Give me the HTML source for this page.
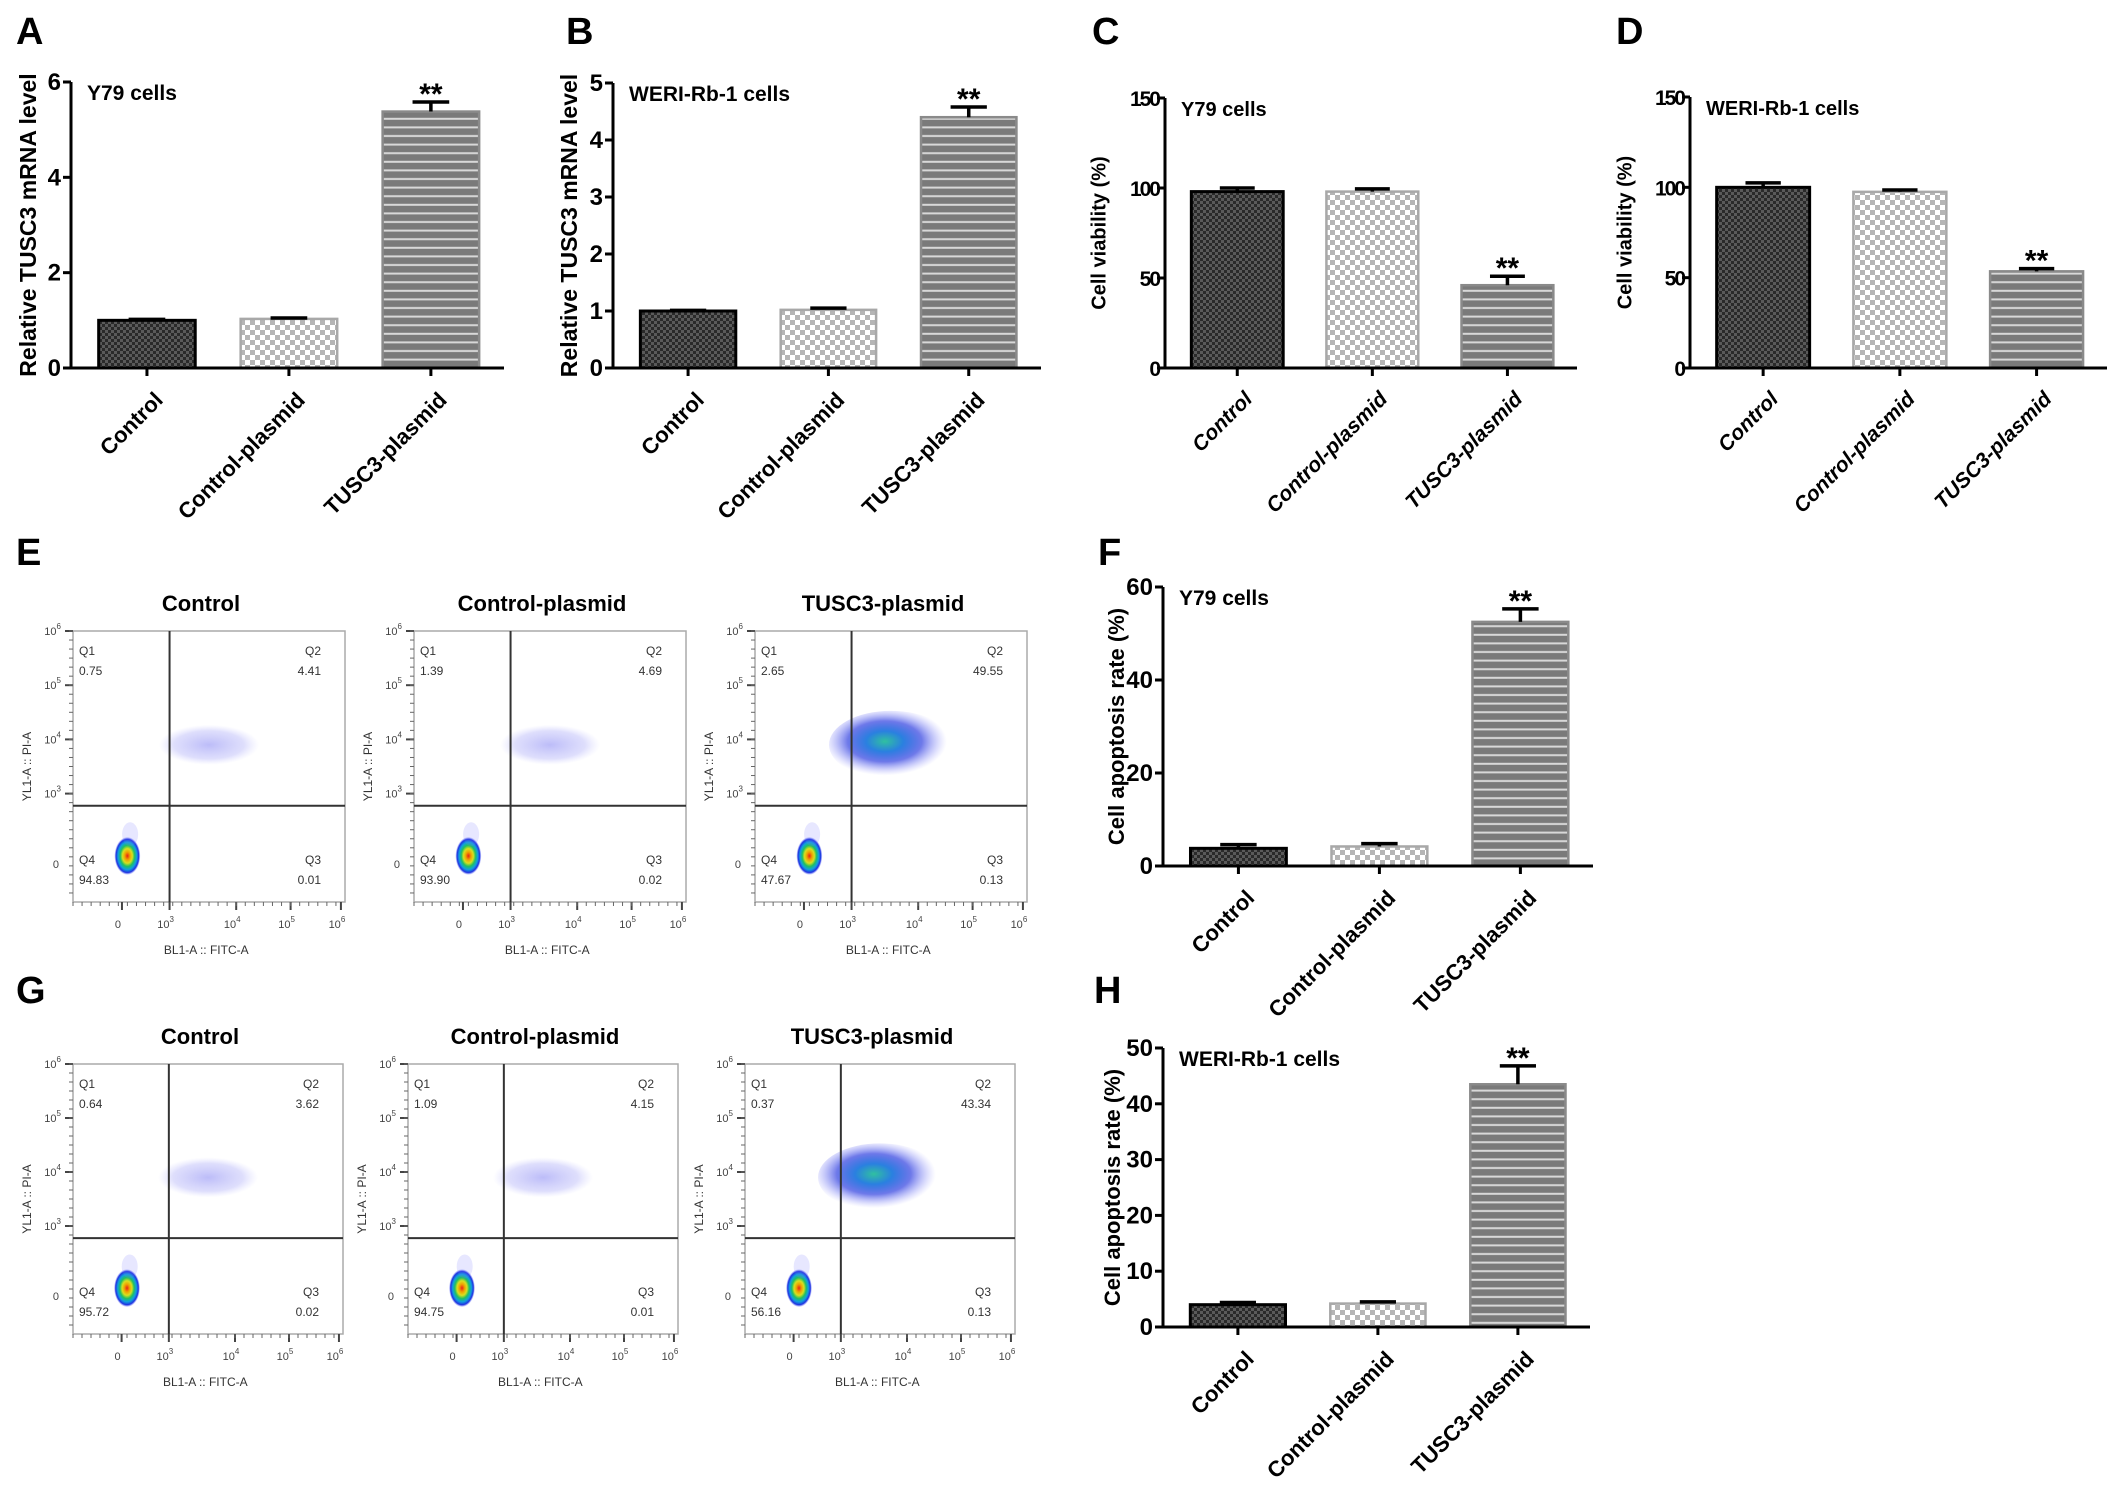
<!DOCTYPE html>
<html><head><meta charset="utf-8">
<style>
html,body{margin:0;padding:0;background:#fff;}
svg{display:block;font-family:"Liberation Sans",Arial,sans-serif;}
</style></head>
<body>
<svg id="fig" width="2126" height="1494" viewBox="0 0 2126 1494" xmlns="http://www.w3.org/2000/svg">
<defs>
  <pattern id="pDark" width="6" height="6" patternUnits="userSpaceOnUse">
    <rect width="6" height="6" fill="#5a5a5a"/>
    <rect width="3" height="3" fill="#2a2a2a"/><rect x="3" y="3" width="3" height="3" fill="#2a2a2a"/>
  </pattern>
  <pattern id="pLight" width="10" height="10" patternUnits="userSpaceOnUse">
    <rect width="10" height="10" fill="#ffffff"/>
    <rect width="5" height="5" fill="#b5b5b5"/><rect x="5" y="5" width="5" height="5" fill="#b5b5b5"/>
  </pattern>
  <pattern id="pStripe" width="10" height="8.6" patternUnits="userSpaceOnUse">
    <rect width="10" height="8.6" fill="#7a7a7a"/>
    <rect y="6" width="10" height="2" fill="#d8d8d8"/>
  </pattern>
  <radialGradient id="jet" cx="50%" cy="50%" r="50%">
    <stop offset="0" stop-color="#e8201a"/>
    <stop offset="0.2" stop-color="#f0a000"/>
    <stop offset="0.38" stop-color="#d8e020"/>
    <stop offset="0.55" stop-color="#20c060"/>
    <stop offset="0.72" stop-color="#10a0e0"/>
    <stop offset="0.88" stop-color="#2030e0"/>
    <stop offset="1" stop-color="#6070ff" stop-opacity="0"/>
  </radialGradient>
  <radialGradient id="cloudSparse" cx="50%" cy="50%" r="50%">
    <stop offset="0" stop-color="#6a6af0" stop-opacity="0.45"/>
    <stop offset="0.7" stop-color="#8a8af5" stop-opacity="0.28"/>
    <stop offset="1" stop-color="#aaaaff" stop-opacity="0"/>
  </radialGradient>
  <radialGradient id="cloudDense" cx="45%" cy="45%" r="50%">
    <stop offset="0" stop-color="#30c0a0"/>
    <stop offset="0.3" stop-color="#2a80e0"/>
    <stop offset="0.6" stop-color="#3040e0" stop-opacity="0.7"/>
    <stop offset="1" stop-color="#9090ff" stop-opacity="0"/>
  </radialGradient>
</defs>
<g id="root"></g>
</svg>
<script>
// ---------- data ----------
const categories = ["Control", "Control-plasmid", "TUSC3-plasmid"];
const valuesA = [1.0, 1.03, 5.38];
const errorsA = [0.02, 0.02, 0.2];
const valuesB = [1.0, 1.02, 4.40];
const errorsB = [0.01, 0.03, 0.18];
const valuesC = [98, 98, 46];
const errorsC = [2, 1.5, 5];
const valuesD = [100, 97.5, 53.5];
const errorsD = [2.5, 1, 1.5];
const valuesF = [3.8, 4.2, 52.5];
const errorsF = [0.8, 0.6, 2.8];
const valuesH = [4.0, 4.2, 43.5];
const errorsH = [0.4, 0.3, 3.3];
const ticksA = [0, 2, 4, 6];
const ticksB = [0, 1, 2, 3, 4, 5];
const ticksCD = [0, 50, 100, 150];
const ticksF = [0, 20, 40, 60];
const ticksH = [0, 10, 20, 30, 40, 50];
const flowTitles = ["Control", "Control-plasmid", "TUSC3-plasmid"];
const flowE = [["0.75","4.41","94.83","0.01"],["1.39","4.69","93.90","0.02"],["2.65","49.55","47.67","0.13"]];
const flowG = [["0.64","3.62","95.72","0.02"],["1.09","4.15","94.75","0.01"],["0.37","43.34","56.16","0.13"]];
const flowQ2E = [4.41, 4.69, 49.55];
const flowQ2G = [3.62, 4.15, 43.34];

const NS = "http://www.w3.org/2000/svg";
const root = document.getElementById("root");
function mk(tag, attrs, parent, txt){
  const e = document.createElementNS(NS, tag);
  for (const k in attrs) e.setAttribute(k, attrs[k]);
  if (txt !== undefined) e.textContent = txt;
  (parent || root).appendChild(e);
  return e;
}

function panelLetter(ch, x, y){
  const t = mk("text", {x:x, y:y, "font-size":38, "font-weight":"bold", fill:"#000"}, root, ch);
  
  
}

function barChart(o){
  const g = mk("g", {});
  
  
  const yMax = o.ticks[o.ticks.length-1];
  const ys = v => o.y0 - (v / yMax) * (o.y0 - o.yTop);
  const step = (o.xEnd - o.ax) / 3.05;
  const cx = i => o.ax + (i + 0.535) * step;
  const bw = step * 0.68;
  const fills = ["url(#pDark)", "url(#pLight)", "url(#pStripe)"];
  const strokes = ["#000", "#a8a8a8", "#8a8a8a"];
  o.values.forEach((v, i) => {
    const r = mk("rect", {x:cx(i)-bw/2, y:ys(v), width:bw, height:o.y0-ys(v), fill:fills[i], stroke:strokes[i], "stroke-width":i===0?3:2.5}, g);
    
    
    const e = o.errors[i];
    const eb = mk("path", {d:`M${cx(i)} ${ys(v)} V${ys(v+e)} M${cx(i)-bw*0.19} ${ys(v+e)} H${cx(i)+bw*0.19}`, stroke:"#000", "stroke-width":3.5, fill:"none"}, g);
    
    
    if (i === 2) {
      const s = mk("text", {x:cx(i), y:ys(v+e)+2, "text-anchor":"middle", "font-size":30, "font-weight":"bold"}, g, "**");
      
      
    }
    mk("line", {x1:cx(i), x2:cx(i), y1:o.y0, y2:o.y0+8, stroke:"#000", "stroke-width":3}, g);
    const lx = cx(i) + 6, ly = o.y0 + 22;
    const lab = mk("text", {x:lx, y:ly, "text-anchor":"end", "font-size":o.catSize, "font-weight":"bold", "font-style":o.italic?"italic":"normal", transform:`rotate(-45 ${lx} ${ly})`, "dominant-baseline":"hanging"}, g, categories[i]);
    
    
  });
  const ya = mk("line", {x1:o.ax, x2:o.ax, y1:o.yTop, y2:o.y0, stroke:"#000", "stroke-width":3}, g);
  
  
  const xa = mk("line", {x1:o.ax-8, x2:o.xEnd, y1:o.y0, y2:o.y0, stroke:"#000", "stroke-width":3}, g);
  
  
  o.ticks.forEach(t => {
    mk("line", {x1:o.ax-8, x2:o.ax, y1:ys(t), y2:ys(t), stroke:"#000", "stroke-width":3}, g);
    const tl = mk("text", {x:o.ax-(o.narrow?6:10), y:ys(t)+8, "text-anchor":"end", "font-size":o.tickSize, "font-weight":"bold", "letter-spacing":o.narrow?-2:0}, g, String(t));
    
    
  });
  const yl = mk("text", {x:o.ylx, y:(o.yTop+o.y0)/2, "text-anchor":"middle", "font-size":o.ylSize, "font-weight":"bold", transform:`rotate(-90 ${o.ylx} ${(o.yTop+o.y0)/2})`, "dominant-baseline":"middle"}, g, o.ylabel);
  
  
  const ti = mk("text", {x:o.ax+16, y:o.yTop+18, "font-size":o.titleSize, "font-weight":"bold"}, g, o.title);
  
  
}

barChart({name:"chart-a", ax:71, xEnd:504, y0:368, yTop:82, ticks:ticksA, values:valuesA, errors:errorsA, ylabel:"Relative TUSC3 mRNA level", ylx:30, title:"Y79 cells", tickSize:24, ylSize:23, titleSize:21, catSize:22});
barChart({name:"chart-b", ax:613, xEnd:1041, y0:368, yTop:83, ticks:ticksB, values:valuesB, errors:errorsB, ylabel:"Relative TUSC3 mRNA level", ylx:571, title:"WERI-Rb-1 cells", tickSize:24, ylSize:23, titleSize:21, catSize:22});
barChart({name:"chart-c", ax:1165, xEnd:1577, y0:368, yTop:98, ticks:ticksCD, values:valuesC, errors:errorsC, ylabel:"Cell viability (%)", ylx:1100, title:"Y79 cells", tickSize:21, ylSize:20, titleSize:20, catSize:21, italic:true, narrow:true});
barChart({name:"chart-d", ax:1690, xEnd:2107, y0:368, yTop:97, ticks:ticksCD, values:valuesD, errors:errorsD, ylabel:"Cell viability (%)", ylx:1626, title:"WERI-Rb-1 cells", tickSize:21, ylSize:20, titleSize:20, catSize:21, italic:true, narrow:true});
barChart({name:"chart-f", ax:1163, xEnd:1593, y0:866, yTop:587, ticks:ticksF, values:valuesF, errors:errorsF, ylabel:"Cell apoptosis rate (%)", ylx:1118, title:"Y79 cells", tickSize:24, ylSize:22, titleSize:21, catSize:22});
barChart({name:"chart-h", ax:1163, xEnd:1590, y0:1327, yTop:1048, ticks:ticksH, values:valuesH, errors:errorsH, ylabel:"Cell apoptosis rate (%)", ylx:1114, title:"WERI-Rb-1 cells", tickSize:24, ylSize:22, titleSize:21, catSize:22});

panelLetter("A", 16, 44); panelLetter("B", 566, 44); panelLetter("C", 1092, 44); panelLetter("D", 1616, 44);
panelLetter("E", 16, 565); panelLetter("F", 1098, 565); panelLetter("G", 16, 1003); panelLetter("H", 1094, 1003);

function flowPlot(x0, y0, w, h, title, vals, q2, idx, rowName){
  const g = mk("g", {});
  
  
  const t = mk("text", {x:x0+w/2-8, y:y0-20, "text-anchor":"middle", "font-size":22, "font-weight":"bold"}, g, title);
  
  
  mk("rect", {x:x0, y:y0, width:w, height:h, fill:"#fff", stroke:"#aaa", "stroke-width":1.5}, g);
  const vx = x0 + w*0.355, hy = y0 + h*0.645;
  const dense = q2 > 20;
  const cloudRx = dense ? 62 : 50, cloudRy = dense ? 34 : 20;
  const c = mk("ellipse", {cx:x0+w*0.5, cy:y0+h*0.42, rx:cloudRx, ry:cloudRy, fill:dense?"url(#cloudDense)":"url(#cloudSparse)"}, g);
  
  
  const b = mk("ellipse", {cx:x0+w*0.2, cy:y0+h*0.83, rx:13, ry:19, fill:"url(#jet)"}, g);
  
  
  mk("ellipse", {cx:x0+w*0.21, cy:y0+h*0.75, rx:8, ry:12, fill:"#7a7aff", opacity:0.18}, g);
  mk("line", {x1:vx, x2:vx, y1:y0, y2:y0+h, stroke:"#333", "stroke-width":2}, g);
  mk("line", {x1:x0, x2:x0+w, y1:hy, y2:hy, stroke:"#333", "stroke-width":2}, g);
  const qs = [["Q1",vals[0],x0+6,y0+24,"start"],["Q2",vals[1],x0+w-24,y0+24,"end"],["Q4",vals[2],x0+6,y0+h*0.86,"start"],["Q3",vals[3],x0+w-24,y0+h*0.86,"end"]];
  qs.forEach(q => {
    const a = mk("text", {x:q[2], y:q[3], "text-anchor":q[4], "font-size":12, fill:"#333"}, g, q[0]);
    
    
    const v = mk("text", {x:q[2], y:q[3]+20, "text-anchor":q[4], "font-size":12, fill:"#333"}, g, q[1]);
    
    
  });
  const yt = [["6",0],["5",0.2],["4",0.4],["3",0.6]];
  yt.forEach(p => {
    const yy = y0 + h*p[1];
    mk("line", {x1:x0-8, x2:x0, y1:yy, y2:yy, stroke:"#444", "stroke-width":2}, g);
    const tx = mk("text", {x:x0-12, y:yy+4, "text-anchor":"end", "font-size":11, fill:"#444"}, g);
    mk("tspan", {}, tx, "10");
    mk("tspan", {dy:-6, "font-size":8}, tx, p[0]);
  });
  mk("text", {x:x0-14, y:y0+h*0.86+4, "text-anchor":"end", "font-size":11, fill:"#444"}, g, "0");
  for (let k=0;k<30;k++) mk("line", {x1:x0-4, x2:x0, y1:y0+k*h/30, y2:y0+k*h/30, stroke:"#666", "stroke-width":1}, g);
  const xt = [["",0.18],["3",0.355],["4",0.6],["5",0.8],["6",0.985]];
  xt.forEach(p => {
    const xx = x0 + w*p[1];
    mk("line", {x1:xx, x2:xx, y1:y0+h, y2:y0+h+8, stroke:"#444", "stroke-width":2}, g);
    const tx = mk("text", {x:xx-4, y:y0+h+26, "text-anchor":"middle", "font-size":11, fill:"#444"}, g);
    if (p[0]==="") { tx.textContent = "0"; }
    else { mk("tspan", {}, tx, "10"); mk("tspan", {dy:-6, "font-size":8}, tx, p[0]); }
  });
  for (let k=0;k<30;k++) mk("line", {x1:x0+k*w/30, x2:x0+k*w/30, y1:y0+h, y2:y0+h+4, stroke:"#666", "stroke-width":1}, g);
  const xl = mk("text", {x:x0+w*0.49, y:y0+h+52, "text-anchor":"middle", "font-size":12, fill:"#333"}, g, "BL1-A :: FITC-A");
  
  
  const lx = x0-42, ly = y0+h*0.5;
  const yl = mk("text", {x:lx, y:ly, "text-anchor":"middle", "font-size":12, fill:"#333", transform:`rotate(-90 ${lx} ${ly})`}, g, "YL1-A :: PI-A");
  
  
}
const eX = [73, 414, 755], gX = [73, 408, 745];
flowE.forEach((v,i) => flowPlot(eX[i], 631, 272, 271, flowTitles[i], v, flowQ2E[i], i, "row-e"));
flowG.forEach((v,i) => flowPlot(gX[i], 1064, 270, 270, flowTitles[i], v, flowQ2G[i], i, "row-g"));
</script>
</body></html>
